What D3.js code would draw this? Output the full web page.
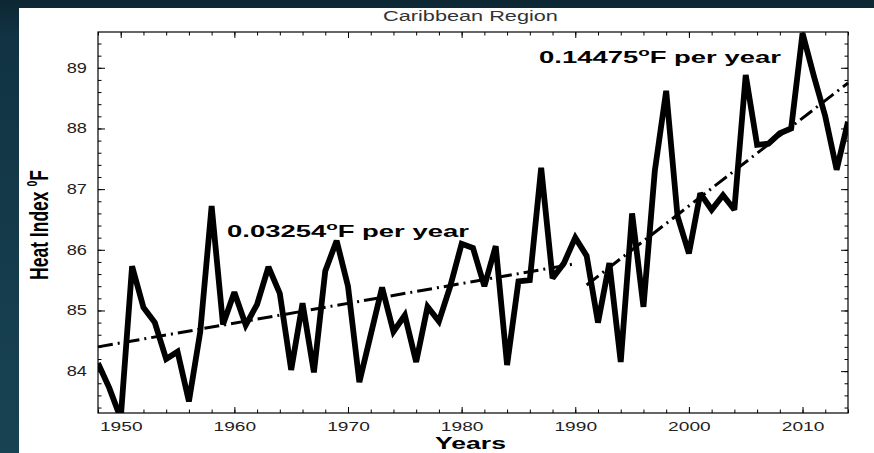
<!DOCTYPE html>
<html>
<head>
<meta charset="utf-8">
<script src="https://cdn.jsdelivr.net/npm/d3@7"></script>
<style>
  html, body { margin: 0; padding: 0; background: #143a4a; }
  svg { display: block; }
  text { font-family: "Liberation Sans", Arial, sans-serif; }
</style>
</head>
<body>
<svg id="chart" width="874" height="453"></svg>
<script>
// ---------- data ----------
const years = d3.range(1948, 2015);
const heatIndex = [
  84.13, 83.72, 83.22, 85.73, 85.05, 84.80, 84.20, 84.32, 83.50, 84.65,
  86.72, 84.77, 85.30, 84.76, 85.10, 85.72, 85.28, 84.02, 85.12, 83.98,
  85.65, 86.15, 85.40, 83.82, 84.60, 85.38, 84.65, 84.92, 84.15, 85.06,
  84.82, 85.40, 86.10, 86.03, 85.40, 86.06, 84.10, 85.48, 85.50, 87.35,
  85.53, 85.78, 86.20, 85.90, 84.80, 85.78, 84.15, 86.60, 85.06, 87.30,
  88.62, 86.55, 85.94, 86.93, 86.66, 86.90, 86.66, 88.88, 87.73, 87.75,
  87.92, 88.00, 89.57, 88.86, 88.20, 87.32, 88.11
];
const trend1Years = [1948, 1990];
const trend1Values = [84.40, 85.77];
const trend2Years = [1991, 2014];
const trend2Values = [85.42, 88.75];
const xMajorTicks = [1950, 1960, 1970, 1980, 1990, 2000, 2010];
const xMinorTicks = d3.range(1948, 2015, 2);
const yMajorTicks = [84, 85, 86, 87, 88, 89];
const yMinorTicks = d3.range(83.4, 89.6, 0.2).map(v => +v.toFixed(1));
const titleText = "Caribbean Region";
const xLabel = "Years";
const yLabelMain = "Heat Index ";
const yLabelSup = "0";
const yLabelUnit = "F";
const annotationValues = ["0.03254", "0.14475"];

// ---------- layout ----------
const svg = d3.select("#chart");
const W = 874, H = 453;
const plot = { left: 98, top: 32, right: 848, bottom: 413 };

const defs = svg.append("defs");
const grad = defs.append("linearGradient").attr("id", "bg").attr("x1", 0).attr("y1", 0).attr("x2", 0).attr("y2", 1);
grad.append("stop").attr("offset", "0%").attr("stop-color", "#0d2733");
grad.append("stop").attr("offset", "8%").attr("stop-color", "#113343");
grad.append("stop").attr("offset", "100%").attr("stop-color", "#184353");
defs.append("clipPath").attr("id", "plotclip").append("rect")
  .attr("x", plot.left).attr("y", plot.top)
  .attr("width", plot.right - plot.left).attr("height", plot.bottom - plot.top);

svg.append("rect").attr("width", W).attr("height", H).attr("fill", "url(#bg)");
svg.append("rect").attr("x", 19).attr("y", 8).attr("width", W - 19).attr("height", H - 8).attr("fill", "#ffffff");

const x = d3.scaleLinear().domain([1948, 2014]).range([plot.left, plot.right]);
const y = d3.scaleLinear().domain([83.31, 89.59]).range([plot.bottom, plot.top]);

// ---------- axes ----------
function styleAxis(g) {
  g.select(".domain").remove();
  g.selectAll(".tick line").attr("stroke", "#000").attr("stroke-width", 1);
}
// minor ticks
svg.append("g").attr("transform", `translate(0,${plot.bottom})`)
  .call(d3.axisBottom(x).tickValues(xMinorTicks).tickSize(-3.5).tickFormat(""))
  .call(styleAxis);
svg.append("g").attr("transform", `translate(0,${plot.top})`)
  .call(d3.axisTop(x).tickValues(xMinorTicks).tickSize(-3.5).tickFormat(""))
  .call(styleAxis);
svg.append("g").attr("transform", `translate(${plot.left},0)`)
  .call(d3.axisLeft(y).tickValues(yMinorTicks).tickSize(-3.5).tickFormat(""))
  .call(styleAxis);
svg.append("g").attr("transform", `translate(${plot.right},0)`)
  .call(d3.axisRight(y).tickValues(yMinorTicks).tickSize(-3.5).tickFormat(""))
  .call(styleAxis);

// major ticks with labels
const xAxisG = svg.append("g").attr("transform", `translate(0,${plot.bottom})`)
  .call(d3.axisBottom(x).tickValues(xMajorTicks).tickSize(-6).tickPadding(8).tickFormat(d3.format("d")))
  .call(styleAxis);
xAxisG.selectAll(".tick text")
  .attr("font-size", 13.5).attr("fill", "#222")
  .attr("font-family", "'Liberation Sans', Arial, sans-serif")
  .attr("transform", "scale(1.42,1)");
svg.append("g").attr("transform", `translate(0,${plot.top})`)
  .call(d3.axisTop(x).tickValues(xMajorTicks).tickSize(-6).tickFormat(""))
  .call(styleAxis);
const yAxisG = svg.append("g").attr("transform", `translate(${plot.left},0)`)
  .call(d3.axisLeft(y).tickValues(yMajorTicks).tickSize(-7).tickPadding(8.5).tickFormat(d3.format("d")))
  .call(styleAxis);
yAxisG.selectAll(".tick text")
  .attr("font-size", 14).attr("fill", "#222")
  .attr("font-family", "'Liberation Sans', Arial, sans-serif")
  .attr("transform", "scale(1.3,1)");
svg.append("g").attr("transform", `translate(${plot.right},0)`)
  .call(d3.axisRight(y).tickValues(yMajorTicks).tickSize(-7).tickFormat(""))
  .call(styleAxis);

// frame
svg.append("rect")
  .attr("x", plot.left).attr("y", plot.top)
  .attr("width", plot.right - plot.left).attr("height", plot.bottom - plot.top)
  .attr("fill", "none").attr("stroke", "#000").attr("stroke-width", 1.2);

// ---------- trend lines ----------
const trendLine = d3.line().x(d => x(d[0])).y(d => y(d[1]));
[[trend1Years, trend1Values], [trend2Years, trend2Values]].forEach(([ys, vs]) => {
  svg.append("path")
    .datum(ys.map((yr, i) => [yr, vs[i]]))
    .attr("d", trendLine)
    .attr("fill", "none").attr("stroke", "#000")
    .attr("stroke-width", 3)
    .attr("stroke-dasharray", "15,5,2,5");
});

// ---------- data line ----------
const dataLine = d3.line().x((d, i) => x(years[i])).y(d => y(d));
svg.append("path")
  .datum(heatIndex)
  .attr("clip-path", "url(#plotclip)")
  .attr("d", dataLine)
  .attr("fill", "none").attr("stroke", "#000")
  .attr("stroke-width", 5.8)
  .attr("stroke-linejoin", "miter")
  .attr("stroke-miterlimit", 2.5);

// ---------- text helpers ----------
function stretched(px, py, targetW, anchor, extra, build) {
  const g = svg.append("g");
  const t = g.append("text").attr("text-anchor", anchor);
  build(t);
  const w = t.node().getComputedTextLength();
  const s = targetW / w;
  g.attr("transform", `translate(${px},${py})${extra} scale(${s},1)`);
  return g;
}

// title
stretched(470.5, 21, 175, "middle", "", t => {
  t.attr("font-size", 15).attr("fill", "#333").text(titleText);
});

// x label
stretched(470.5, 449.3, 71, "middle", "", t => {
  t.attr("font-size", 17).attr("font-weight", "bold").attr("fill", "#000").text(xLabel);
});

// y label
stretched(48, 225, 110, "middle", " rotate(-90)", t => {
  t.attr("font-size", 25).attr("font-weight", "bold").attr("fill", "#000");
  t.append("tspan").text(yLabelMain);
  t.append("tspan").attr("font-size", 15).attr("dy", -11).text(yLabelSup);
  t.append("tspan").attr("dy", 11).text(yLabelUnit);
});

// annotations
const annoX = [227, 539];
const annoY = [237, 63];
annotationValues.forEach((v, i) => {
  stretched(annoX[i], annoY[i], 242, "start", "", t => {
    t.attr("font-size", 16).attr("font-weight", "bold").attr("fill", "#000");
    t.append("tspan").text(v);
    t.append("tspan").attr("font-size", 11).attr("dy", -7).text("o");
    t.append("tspan").attr("dy", 7).text("F per year");
  });
});
</script>
</body>
</html>
